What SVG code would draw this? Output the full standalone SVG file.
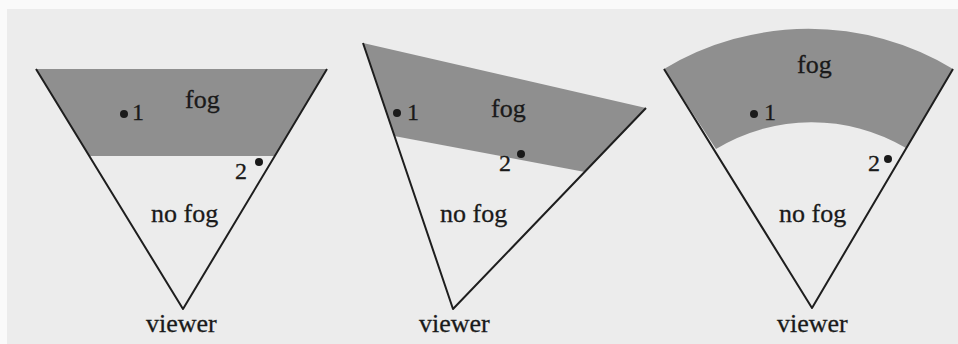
<svg xmlns="http://www.w3.org/2000/svg" width="958" height="344" viewBox="0 0 958 344">
<style>
.fog{fill:#8f8f8f;stroke:none}
.edge{fill:none;stroke:#1e1e1e;stroke-width:2;stroke-linejoin:round}
.dot{fill:#1a1a1a}
.t{font-family:'Liberation Serif','DejaVu Serif','Times New Roman',serif;fill:#1a1a1a;stroke:#1a1a1a;stroke-width:0.3;font-size:26px}
.num{font-size:24px}
</style>
<rect x="0" y="0" width="958" height="344" fill="#fafafa"/>
<rect x="7" y="9" width="951" height="335" fill="#ececec"/>
<g id="panel1">
<polygon class="fog" points="36,69 327,69 275,156 89,156"/>
<polyline class="edge" points="36,69 183,309 327,69"/>
<circle class="dot" cx="124" cy="114" r="4"/>
<text class="t num" x="132" y="120">1</text>
<text class="t" x="185" y="108">fog</text>
<circle class="dot" cx="259" cy="162" r="4"/>
<text class="t num" x="235" y="179">2</text>
<text class="t" x="151" y="222">no fog</text>
<text class="t" x="146" y="332">viewer</text>
</g>
<g id="panel2">
<polygon class="fog" points="363,43 646,108 585,172 394,136"/>
<polyline class="edge" points="363,43 453,309 646,108"/>
<circle class="dot" cx="397" cy="113" r="4"/>
<text class="t num" x="407" y="120">1</text>
<text class="t" x="491" y="117">fog</text>
<circle class="dot" cx="521" cy="154" r="4"/>
<text class="t num" x="499" y="171">2</text>
<text class="t" x="440" y="222">no fog</text>
<text class="t" x="419" y="332">viewer</text>
</g>
<g id="panel3">
<path class="fog" d="M664,69 A280,280 0 0 1 953,69 L906,148 A185,185 0 0 0 716,149 Z"/>
<polyline class="edge" points="664,69 812,308 953,69"/>
<circle class="dot" cx="754" cy="114" r="4"/>
<text class="t num" x="764" y="120">1</text>
<text class="t" x="797" y="73">fog</text>
<circle class="dot" cx="888" cy="159" r="4"/>
<text class="t num" x="868" y="171">2</text>
<text class="t" x="779" y="222">no fog</text>
<text class="t" x="777" y="332">viewer</text>
</g>
</svg>
